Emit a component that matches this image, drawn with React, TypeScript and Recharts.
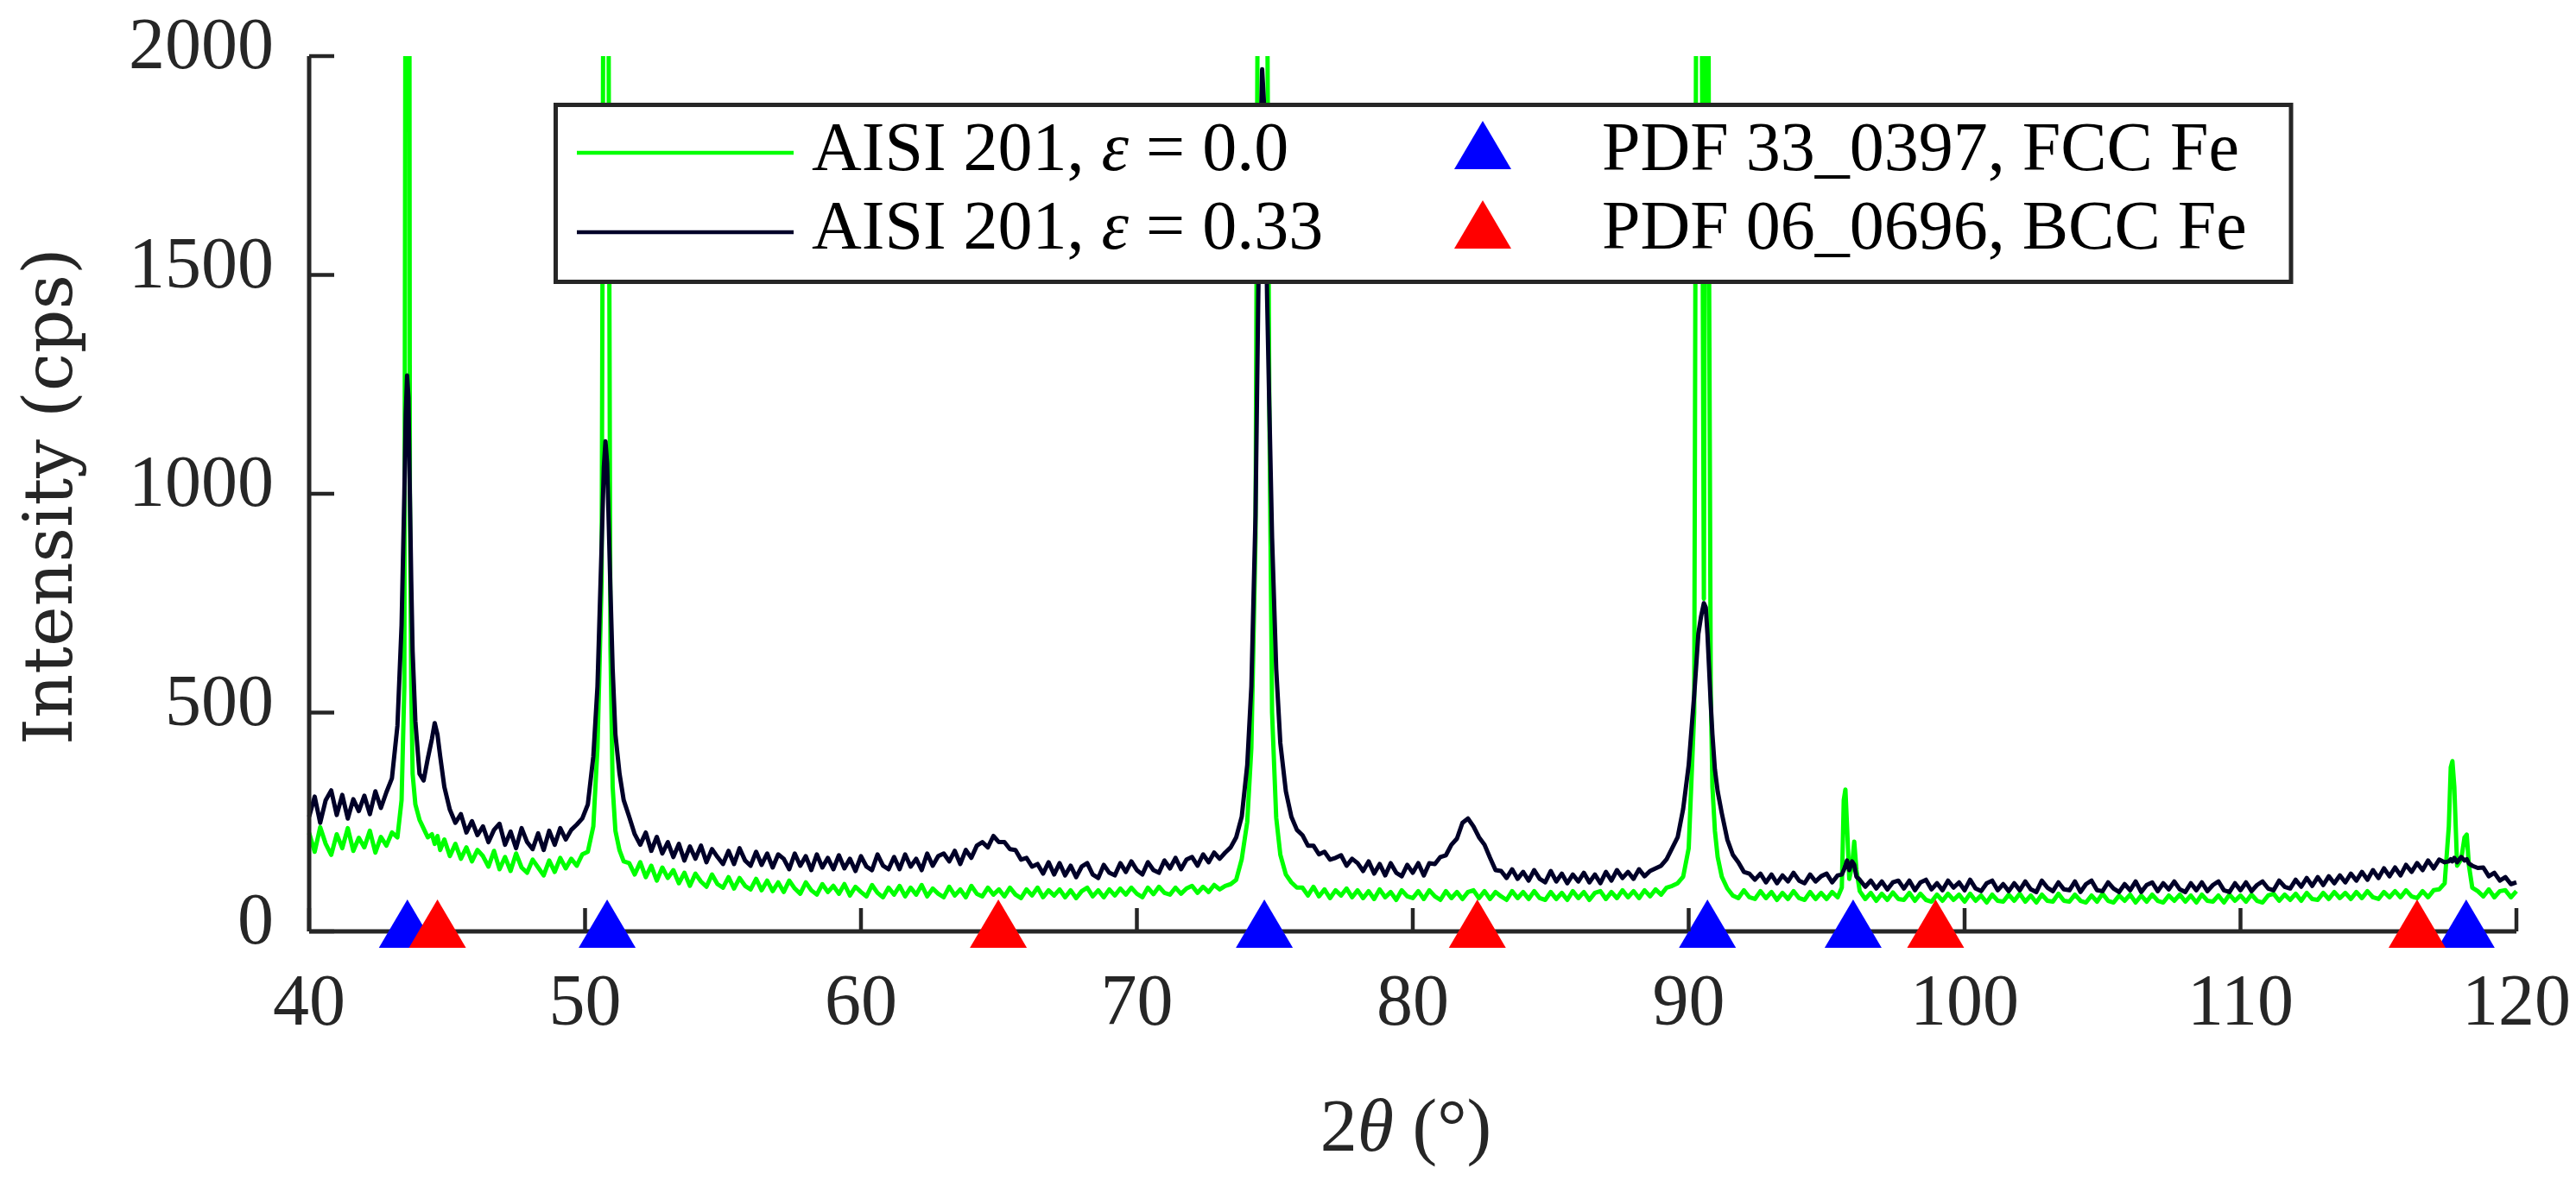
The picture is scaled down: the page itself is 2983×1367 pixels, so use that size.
import React from 'react';
import { ComposedChart, Line, Scatter, XAxis, YAxis, Label } from 'recharts';

// scan angle, degrees
const twoTheta = [
  40.0, 40.2, 40.4, 40.6, 40.8, 41.0, 41.2, 41.4, 41.6, 41.8,
  42.0, 42.2, 42.4, 42.6, 42.8, 43.0, 43.2, 43.35, 43.45, 43.5,
  43.55, 43.6, 43.65, 43.7, 43.75, 43.85, 44.0, 44.15, 44.3, 44.45,
  44.55, 44.65, 44.75, 44.9, 45.1, 45.3, 45.5, 45.7, 45.9, 46.1,
  46.3, 46.5, 46.7, 46.9, 47.1, 47.3, 47.5, 47.7, 47.9, 48.1,
  48.3, 48.5, 48.7, 48.9, 49.1, 49.3, 49.5, 49.7, 49.9, 50.1,
  50.3, 50.45, 50.6, 50.68, 50.74, 50.8, 50.86, 50.92, 51.0, 51.1,
  51.25, 51.4, 51.6, 51.8, 52.0, 52.2, 52.4, 52.6, 52.8, 53.0,
  53.2, 53.4, 53.6, 53.8, 54.0, 54.2, 54.4, 54.6, 54.8, 55.0,
  55.2, 55.4, 55.6, 55.8, 56.0, 56.2, 56.4, 56.6, 56.8, 57.0,
  57.2, 57.4, 57.6, 57.8, 58.0, 58.2, 58.4, 58.6, 58.8, 59.0,
  59.2, 59.4, 59.6, 59.8, 60.0, 60.2, 60.4, 60.6, 60.8, 61.0,
  61.2, 61.4, 61.6, 61.8, 62.0, 62.2, 62.4, 62.6, 62.8, 63.0,
  63.2, 63.4, 63.6, 63.8, 64.0, 64.2, 64.4, 64.6, 64.8, 65.0,
  65.2, 65.4, 65.6, 65.8, 66.0, 66.2, 66.4, 66.6, 66.8, 67.0,
  67.2, 67.4, 67.6, 67.8, 68.0, 68.2, 68.4, 68.6, 68.8, 69.0,
  69.2, 69.4, 69.6, 69.8, 70.0, 70.2, 70.4, 70.6, 70.8, 71.0,
  71.2, 71.4, 71.6, 71.8, 72.0, 72.2, 72.4, 72.6, 72.8, 73.0,
  73.2, 73.4, 73.6, 73.8, 74.0, 74.15, 74.3, 74.4, 74.48, 74.54,
  74.6, 74.66, 74.72, 74.8, 74.9, 75.05, 75.2, 75.4, 75.6, 75.8,
  76.0, 76.2, 76.4, 76.6, 76.8, 77.0, 77.2, 77.4, 77.6, 77.8,
  78.0, 78.2, 78.4, 78.6, 78.8, 79.0, 79.2, 79.4, 79.6, 79.8,
  80.0, 80.2, 80.4, 80.6, 80.8, 81.0, 81.2, 81.4, 81.6, 81.8,
  82.0, 82.2, 82.4, 82.6, 82.8, 83.0, 83.2, 83.4, 83.6, 83.8,
  84.0, 84.2, 84.4, 84.6, 84.8, 85.0, 85.2, 85.4, 85.6, 85.8,
  86.0, 86.2, 86.4, 86.6, 86.8, 87.0, 87.2, 87.4, 87.6, 87.8,
  88.0, 88.2, 88.4, 88.6, 88.8, 89.0, 89.2, 89.4, 89.6, 89.8,
  90.0, 90.2, 90.35, 90.45, 90.55, 90.62, 90.68, 90.74, 90.8, 90.86,
  90.95, 91.05, 91.2, 91.4, 91.6, 91.8, 92.0, 92.2, 92.4, 92.6,
  92.8, 93.0, 93.2, 93.4, 93.6, 93.8, 94.0, 94.2, 94.4, 94.6,
  94.8, 95.0, 95.2, 95.4, 95.55, 95.62, 95.68, 95.74, 95.82, 95.92,
  96.0, 96.08, 96.2, 96.4, 96.6, 96.8, 97.0, 97.2, 97.4, 97.6,
  97.8, 98.0, 98.2, 98.4, 98.6, 98.8, 99.0, 99.2, 99.4, 99.6,
  99.8, 100.0, 100.2, 100.4, 100.6, 100.8, 101.0, 101.2, 101.4, 101.6,
  101.8, 102.0, 102.2, 102.4, 102.6, 102.8, 103.0, 103.2, 103.4, 103.6,
  103.8, 104.0, 104.2, 104.4, 104.6, 104.8, 105.0, 105.2, 105.4, 105.6,
  105.8, 106.0, 106.2, 106.4, 106.6, 106.8, 107.0, 107.2, 107.4, 107.6,
  107.8, 108.0, 108.2, 108.4, 108.6, 108.8, 109.0, 109.2, 109.4, 109.6,
  109.8, 110.0, 110.2, 110.4, 110.6, 110.8, 111.0, 111.2, 111.4, 111.6,
  111.8, 112.0, 112.2, 112.4, 112.6, 112.8, 113.0, 113.2, 113.4, 113.6,
  113.8, 114.0, 114.2, 114.4, 114.6, 114.8, 115.0, 115.2, 115.4, 115.6,
  115.8, 116.0, 116.2, 116.4, 116.6, 116.8, 117.0, 117.2, 117.4, 117.55,
  117.62, 117.68, 117.75, 117.85, 118.0, 118.12, 118.2, 118.28, 118.4, 118.6,
  118.8, 119.0, 119.2, 119.4, 119.6, 119.8, 120.0,
];

// AISI 201, eps = 0.0 (cps)
const annealed = [
  225, 182, 238, 200, 175, 222, 190, 236, 184, 214,
  192, 230, 180, 216, 196, 226, 215, 300, 560, 2600,
  6000, 4500, 1000, 560, 360, 290, 255, 235, 215, 222,
  200, 218, 186, 210, 172, 200, 166, 192, 160, 186,
  172, 148, 184, 142, 170, 138, 178, 146, 134, 164,
  146, 128, 162, 136, 168, 144, 166, 150, 176, 182,
  240, 420, 800, 2600, 5500, 3600, 1900, 650, 330, 230,
  185, 160, 156, 130, 158, 124, 150, 116, 146, 122,
  140, 110, 134, 104, 132, 114, 102, 130, 108, 100,
  124, 98, 122, 104, 96, 120, 94, 116, 92, 112,
  90, 116, 98, 86, 112, 94, 84, 108, 90, 104,
  86, 108, 82, 102, 90, 80, 106, 88, 78, 100,
  84, 104, 80, 100, 84, 106, 80, 98, 86, 78,
  102, 82, 96, 78, 104, 86, 80, 100, 84, 96,
  80, 100, 84, 76, 96, 82, 100, 78, 94, 82,
  96, 78, 94, 76, 92, 100, 80, 94, 78, 96,
  82, 98, 84, 100, 86, 78, 100, 85, 102, 88,
  84, 100, 86, 98, 104, 88, 102, 90, 106, 96,
  104, 108, 118, 165, 250, 420, 900, 2500, 4500, 6000,
  5000, 3500, 2200, 1200, 500, 260, 175, 130, 112, 100,
  100, 82, 102, 80, 96, 76, 94, 82, 98, 78,
  94, 76, 92, 74, 96, 78, 90, 72, 94, 80,
  76, 92, 74, 94, 80, 72, 92, 76, 90, 74,
  90, 94, 76, 92, 74, 90, 80, 72, 92, 76,
  90, 74, 92, 76, 72, 90, 74, 88, 72, 92,
  76, 90, 72, 88, 92, 74, 90, 76, 94, 78,
  92, 76, 94, 80, 96, 84, 100, 104, 110, 125,
  190, 500, 4000, 2600, 760, 2400, 3200, 1500, 550, 330,
  230, 170, 125, 98, 82, 76, 94, 78, 74, 92,
  76, 90, 72, 88, 74, 92, 76, 72, 90, 74,
  88, 74, 90, 78, 100, 300, 324, 240, 120, 150,
  205, 140, 92, 74, 88, 70, 86, 72, 89, 74,
  72, 88, 70, 86, 72, 68, 84, 70, 86, 72,
  84, 68, 86, 70, 82, 66, 84, 70, 68, 84,
  70, 86, 68, 82, 66, 84, 70, 68, 86, 70,
  68, 84, 70, 66, 82, 68, 86, 70, 66, 82,
  70, 84, 66, 82, 68, 84, 70, 66, 82, 70,
  84, 68, 82, 66, 84, 70, 68, 82, 66, 84,
  70, 82, 68, 84, 70, 66, 82, 86, 70, 84,
  72, 86, 70, 88, 74, 72, 88, 74, 90, 76,
  88, 74, 90, 76, 92, 78, 74, 90, 78, 92,
  78, 94, 80, 76, 92, 78, 94, 96, 110, 240,
  375, 389, 330, 150, 165, 215, 221, 150, 100, 92,
  80, 96, 78, 92, 94, 78, 92,
];

// AISI 201, eps = 0.33 (cps)
const strained = [
  262, 308, 248, 300, 322, 266, 312, 258, 302, 275,
  310, 268, 320, 282, 318, 350, 470, 700, 1000, 1180,
  1270, 1220, 1000, 800, 640, 480, 360, 345, 395, 440,
  476, 450, 400, 330, 278, 248, 268, 226, 252, 220,
  240, 204, 232, 246, 198, 228, 190, 236, 204, 188,
  224, 186, 230, 198, 236, 210, 232, 244, 258, 290,
  400, 560, 880, 1060, 1120, 1070, 930, 780, 600, 450,
  360, 300, 262, 222, 198, 226, 184, 216, 178, 204,
  170, 200, 162, 194, 166, 196, 158, 188, 170, 154,
  184, 154, 190, 162, 150, 182, 152, 178, 146, 176,
  166, 142, 178, 150, 172, 140, 176, 146, 168, 142,
  174, 144, 166, 138, 172, 148, 140, 176, 150, 142,
  170, 142, 176, 148, 166, 140, 178, 150, 172, 178,
  160, 184, 154, 186, 168, 196, 204, 192, 218, 204,
  204, 188, 186, 164, 168, 148, 154, 132, 158, 130,
  156, 128, 150, 124, 148, 156, 130, 122, 152, 134,
  128, 156, 136, 160, 140, 130, 158, 140, 134, 162,
  144, 168, 142, 164, 170, 150, 176, 158, 180, 166,
  180, 192, 215, 262, 380, 560, 950, 1450, 1800, 1970,
  1900, 1700, 1450, 1200, 900, 600, 430, 320, 262, 232,
  220, 196, 196, 176, 182, 164, 168, 174, 150, 166,
  156, 138, 160, 132, 154, 128, 156, 134, 126, 152,
  134, 156, 128, 156, 154, 170, 174, 198, 212, 248,
  258, 240, 215, 198, 168, 140, 138, 122, 142, 120,
  136, 116, 140, 120, 112, 138, 114, 132, 110, 130,
  114, 134, 112, 130, 110, 136, 116, 140, 122, 136,
  120, 142, 126, 138, 144, 150, 165, 190, 215, 280,
  380, 540, 680, 720, 750, 740, 680, 600, 520, 450,
  370, 320, 270, 210, 175, 158, 136, 132, 118, 132,
  112, 130, 110, 128, 114, 134, 116, 110, 130, 114,
  126, 132, 112, 128, 130, 140, 150, 162, 140, 160,
  152, 125, 118, 102, 116, 98, 114, 96, 112, 116,
  98, 116, 94, 112, 118, 96, 110, 94, 116, 100,
  112, 94, 118, 98, 92, 110, 116, 94, 108, 92,
  110, 94, 114, 96, 90, 116, 100, 92, 112, 96,
  94, 114, 90, 108, 116, 94, 92, 112, 98, 90,
  108, 94, 114, 90, 106, 112, 92, 110, 96, 114,
  96, 90, 110, 94, 112, 92, 106, 114, 94, 90,
  110, 94, 112, 92, 106, 114, 98, 94, 116, 102,
  98, 118, 102, 122, 104, 124, 106, 126, 110, 128,
  112, 132, 116, 136, 118, 140, 122, 144, 126, 146,
  128, 152, 136, 156, 140, 162, 144, 164, 158, 160,
  165, 160, 168, 158, 170, 162, 165, 155, 150, 145,
  146, 126, 134, 116, 124, 108, 112,
];

// reference pattern positions, degrees
const fccPeaks = [43.56, 50.8, 74.62, 90.68, 95.96, 118.18];
const bccPeaks = [44.65, 64.98, 82.34, 98.95, 116.4];

const xTicks = [40, 50, 60, 70, 80, 90, 100, 110, 120];
const yTicks = [0, 500, 1000, 1500, 2000];

const strainValues = ['0.0', '0.33'];
const lineColors = ['#00ff00', '#000028'];
const phaseNames = ['PDF 33_0397, FCC Fe', 'PDF 06_0696, BCC Fe'];
const phaseColors = ['#0000ff', '#ff0000'];

const rows = twoTheta.map((t, i) => ({ t, g: annealed[i], d: strained[i] }));
const fccData = fccPeaks.map((t) => ({ t, y: 0 }));
const bccData = bccPeaks.map((t) => ({ t, y: 0 }));

const AXIS = '#262626';
const TICK_FONT = '"Liberation Serif", serif';

const XTick = (props: any) => {
  const { x, y, payload } = props;
  return (
    <g>
      <line x1={x} y1={y} x2={x} y2={y - 27} stroke={AXIS} strokeWidth={4.5} />
      <text x={x} y={y + 108} textAnchor="middle" fontFamily={TICK_FONT} fontSize={84} fill={AXIS}>
        {payload.value}
      </text>
    </g>
  );
};

const YTick = (props: any) => {
  const { x, y, payload } = props;
  return (
    <g>
      <line x1={x} y1={y} x2={x + 29} y2={y} stroke={AXIS} strokeWidth={4.5} />
      <text x={x - 41} y={y + 14} textAnchor="end" fontFamily={TICK_FONT} fontSize={84} fill={AXIS}>
        {payload.value}
      </text>
    </g>
  );
};

const triangle = (color: string) => (props: any) => {
  const { cx, cy } = props;
  const pts = `${cx},${cy - 37} ${cx - 33},${cy + 19} ${cx + 33},${cy + 19}`;
  return <polygon points={pts} fill={color} />;
};

const renderXLabel = (props: any) => {
  const vb = props.viewBox;
  return (
    <text x={vb.x + vb.width / 2 - 8} y={vb.y + 254} textAnchor="middle" fontFamily={TICK_FONT} fontSize={86} fill={AXIS}>
      2<tspan fontStyle="italic">θ</tspan> (°)
    </text>
  );
};

const renderYLabel = (props: any) => {
  const vb = props.viewBox;
  const cx = vb.x + 83;
  const cy = vb.y + vb.height / 2 + 3;
  return (
    <text
      x={cx}
      y={cy}
      transform={`rotate(-90 ${cx} ${cy})`}
      textAnchor="middle"
      fontFamily='"DejaVu Serif", serif'
      fontSize={79}
      fill={AXIS}
    >
      Intensity (cps)
    </text>
  );
};

const LegendBox = () => (
  <div style={{ position: 'absolute', left: 641, top: 119, width: 2015, height: 211 }}>
    <svg width={2015} height={211}>
      <rect x={2.5} y={2.5} width={2009.5} height={205} fill="#fff" stroke={AXIS} strokeWidth={5} />
      {strainValues.map((v, i) => (
        <g key={v}>
          <line x1={27} x2={278} y1={58 + i * 92} y2={58 + i * 92} stroke={lineColors[i]} strokeWidth={4.5} />
          <text x={299} y={78 + i * 91} fontFamily={TICK_FONT} fontSize={80} fill="#000">
            AISI 201, <tspan fontStyle="italic">ε</tspan> = {v}
          </text>
        </g>
      ))}
      {phaseNames.map((n, i) => {
        const cx = 1076;
        const cy = 58 + i * 92;
        return (
          <g key={n}>
            <polygon
              points={`${cx},${cy - 37} ${cx - 33},${cy + 19} ${cx + 33},${cy + 19}`}
              fill={phaseColors[i]}
            />
            <text x={1214} y={78 + i * 91} fontFamily={TICK_FONT} fontSize={80} fill="#000">
              {n}
            </text>
          </g>
        );
      })}
    </svg>
  </div>
);

export default function App() {
  return (
    <div style={{ position: 'absolute', left: 0, top: 0, width: 2983, height: 1367, background: '#fff' }}>
      <ComposedChart
        width={2983}
        height={1367}
        data={rows}
        margin={{ top: 65, right: 69, bottom: 0, left: 0 }}
      >
        <XAxis
          dataKey="t"
          type="number"
          domain={[40, 120]}
          ticks={xTicks}
          interval={0}
          height={288}
          tickLine={false}
          tickSize={0}
          tickMargin={0}
          axisLine={{ stroke: AXIS, strokeWidth: 5 }}
          tick={<XTick />}
        >
          <Label content={renderXLabel} />
        </XAxis>
        <YAxis
          yAxisId="i"
          type="number"
          domain={[0, 2000]}
          ticks={yTicks}
          interval={0}
          allowDataOverflow
          width={358}
          tickLine={false}
          tickSize={0}
          tickMargin={0}
          axisLine={{ stroke: AXIS, strokeWidth: 5 }}
          tick={<YTick />}
        >
          <Label content={renderYLabel} />
        </YAxis>
        <YAxis yAxisId="m" type="number" domain={[0, 2000]} hide />
        <Line
          yAxisId="i"
          name="AISI 201, ε = 0.0"
          dataKey="g"
          type="linear"
          stroke={lineColors[0]}
          strokeWidth={5}
          strokeLinejoin="round"
          dot={false}
          activeDot={false}
          isAnimationActive={false}
        />
        <Line
          yAxisId="i"
          name="AISI 201, ε = 0.33"
          dataKey="d"
          type="linear"
          stroke={lineColors[1]}
          strokeWidth={5}
          strokeLinejoin="round"
          dot={false}
          activeDot={false}
          isAnimationActive={false}
        />
        <Scatter
          yAxisId="m"
          name={phaseNames[0]}
          data={fccData}
          dataKey="y"
          shape={triangle(phaseColors[0])}
          isAnimationActive={false}
        />
        <Scatter
          yAxisId="m"
          name={phaseNames[1]}
          data={bccData}
          dataKey="y"
          shape={triangle(phaseColors[1])}
          isAnimationActive={false}
        />
      </ComposedChart>
      <LegendBox />
    </div>
  );
}
